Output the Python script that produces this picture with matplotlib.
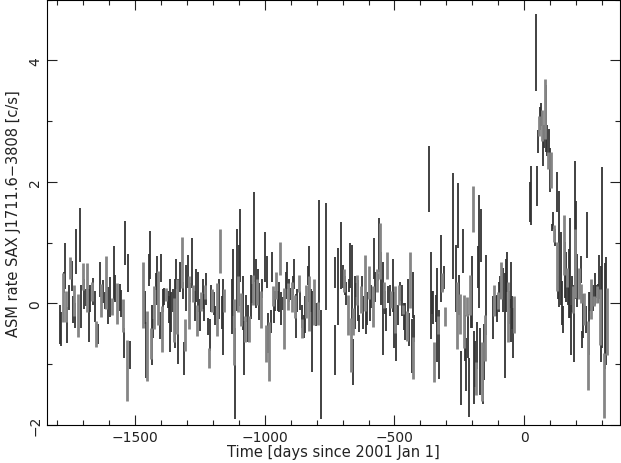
import numpy as np
import matplotlib
matplotlib.use('Agg')
import matplotlib.pyplot as plt
from matplotlib.ticker import MultipleLocator

# RXTE/ASM light curve of SAX J1711.6-3808
# time [days since 2001 Jan 1], rate [c/s], error [c/s]

t_a = [-1791, -1785, -1778, -1773, -1771, -1766, -1762, -1757, -1750, -1745,
       -1740, -1735, -1731, -1727, -1719, -1714, -1708, -1701, -1696, -1691,
       -1686, -1678, -1673, -1668, -1663, -1656, -1650, -1645, -1637, -1631,
       -1624, -1618, -1611, -1605, -1596, -1589, -1582, -1576, -1569, -1560,
       -1553, -1548, -1544, -1539, -1531, -1526, -1520]
r_a = [-0.35, -0.42, 0.10, 0.35, 0.62, -0.05, -0.35, 0.10, 0.58, 0.45,
       -0.10, 0.05, -0.20, 0.85, -0.20, 1.13, -0.05, 0.45, 0.16, 0.10,
       0.26, -0.20, 0.08, 0.20, 0.20, -0.05, -0.50, -0.50, 0.40, 0.05,
       0.20, 0.05, 0.35, -0.03, 0.10, -0.05, 0.50, 0.25, 0.00, 0.10,
       0.00, -0.20, -0.65, 1.00, -1.10, 0.50, -0.85]
e_a = [0.32, 0.28, 0.40, 0.17, 0.38, 0.25, 0.30, 0.20, 0.18, 0.25,
       0.22, 0.25, 0.20, 0.37, 0.35, 0.45, 0.35, 0.22, 0.25, 0.14,
       0.40, 0.44, 0.22, 0.16, 0.22, 0.25, 0.22, 0.17, 0.29, 0.27,
       0.19, 0.14, 0.44, 0.30, 0.33, 0.14, 0.44, 0.22, 0.33, 0.22,
       0.22, 0.27, 0.25, 0.36, 0.50, 0.31, 0.23]

t_b = [-1468, -1463, -1459, -1454, -1448, -1444, -1440, -1436, -1431, -1426,
       -1421, -1417, -1410, -1405, -1401, -1397, -1392, -1387, -1381, -1375,
       -1370, -1365, -1360, -1355, -1351, -1346, -1341, -1337, -1333, -1327,
       -1321, -1316, -1311, -1306, -1302, -1297, -1292, -1287, -1282, -1276,
       -1271, -1266, -1261, -1256, -1251, -1245, -1240, -1235, -1230, -1225,
       -1220, -1216, -1212, -1207, -1202, -1197, -1191, -1186, -1181, -1176,
       -1171, -1166, -1162, -1158]
r_b = [0.14, -0.07, -0.76, -0.70, 0.55, 0.80, -0.66, -0.52, -0.41, -0.07,
       0.36, 0.38, 0.09, -0.36, 0.59, -0.42, 0.05, 0.12, 0.15, 0.07,
       -0.10, -0.20, -0.14, 0.05, -0.27, -0.16, 0.49, -0.05, -0.30, 0.44,
       0.67, 0.22, -0.90, -0.52, 0.25, 0.53, 0.02, 0.18, 0.66, 0.17,
       -0.04, 0.30, -0.28, 0.19, -0.19, 0.03, 0.16, -0.07, 0.19, 0.24,
       -0.38, -0.90, -0.52, 0.08, 0.05, 0.00, -0.20, -0.10, 0.05, 0.08,
       0.87, -0.15, -0.22, 0.05]
e_b = [0.55, 0.27, 0.46, 0.58, 0.26, 0.40, 0.25, 0.50, 0.16, 0.35,
       0.14, 0.41, 0.44, 0.22, 0.23, 0.38, 0.19, 0.14, 0.11, 0.14,
       0.22, 0.60, 0.33, 0.19, 0.36, 0.57, 0.25, 0.46, 0.70, 0.25,
       0.42, 0.14, 0.27, 0.27, 0.38, 0.27, 0.44, 0.16, 0.41, 0.14,
       0.25, 0.27, 0.25, 0.33, 0.27, 0.16, 0.25, 0.22, 0.11, 0.27,
       0.14, 0.16, 0.27, 0.22, 0.19, 0.19, 0.16, 0.44, 0.14, 0.33,
       0.36, 0.27, 0.63, 0.19]

t_c = [-1125, -1122, -1120, -1116, -1108, -1103, -1099, -1095, -1090, -1085,
       -1080, -1076, -1071, -1066, -1061, -1054, -1049, -1045, -1040, -1035,
       -1030, -1026, -1021, -1015, -1012, -1000, -996, -992, -987, -982,
       -978, -973, -969, -964, -959, -955, -950, -945, -940, -936,
       -931, -925, -920, -915, -911, -906, -901, -897, -892, -887,
       -883, -878, -874, -869, -864, -858, -855, -849, -844, -840,
       -835, -831, -828, -822, -817, -812, -808, -801, -795, -792,
       -783, -763]
r_c = [-0.05, 0.35, -0.47, -1.15, 0.55, 0.16, 0.46, 0.96, -0.10, 0.01,
       -0.73, -0.42, -0.08, -0.33, -0.42, 0.11, 0.16, 0.22, 1.09, 0.33,
       0.19, 0.27, 0.03, -0.10, 0.25, 0.77, -0.66, 0.52, -0.48, -0.79,
       -0.30, 0.60, 0.12, -0.10, 0.04, 0.30, 0.04, 0.11, 0.74, -0.08,
       0.00, -0.25, 0.30, 0.46, 0.11, 0.22, 0.16, 0.11, 0.30, 0.49,
       -0.05, -0.20, 0.05, 0.33, 0.05, -0.22, -0.41, -0.38, -0.18, 0.03,
       0.46, 0.49, 0.00, 0.05, -0.46, 0.03, -0.10, -0.18, -0.16, 0.80,
       -1.00, 0.78]
e_c = [0.46, 0.55, 0.55, 0.75, 0.68, 0.30, 0.50, 0.60, 0.27, 0.44,
       0.44, 0.22, 0.22, 0.30, 0.22, 0.36, 0.16, 0.25, 0.74, 0.41,
       0.22, 0.30, 0.30, 0.30, 0.16, 0.41, 0.30, 0.27, 0.33, 0.49,
       0.19, 0.25, 0.16, 0.22, 0.16, 0.22, 0.16, 0.25, 0.27, 0.27,
       0.10, 0.50, 0.22, 0.22, 0.22, 0.19, 0.10, 0.25, 0.16, 0.25,
       0.19, 0.36, 0.19, 0.14, 0.16, 0.19, 0.16, 0.19, 0.30, 0.27,
       0.16, 0.46, 0.46, 0.19, 0.66, 0.38, 0.11, 0.19, 0.19, 0.90,
       0.90, 0.88]

t_d = [-730, -728, -717, -705, -700, -695, -690, -685, -681, -676,
       -671, -669, -665, -661, -658, -654, -649, -643, -640, -635,
       -629, -624, -620, -615, -610, -605, -600, -595, -589, -584,
       -579, -574, -569, -565, -560, -556, -551, -546, -541, -537,
       -532, -528, -523, -517, -512, -507, -502, -497, -493, -488,
       -483, -477, -472, -468, -462, -458, -453, -448, -443, -439,
       -434, -429, -427, -423]
r_d = [0.51, -0.77, 0.28, 0.79, 0.44, 0.38, 0.30, 0.16, -0.19, 0.30,
       0.62, -0.68, 0.30, -0.96, -0.30, 0.02, 0.22, 0.22, 0.05, -0.33,
       0.07, 0.19, -0.15, 0.34, -0.24, -0.08, 0.35, -0.10, 0.11, -0.05,
       0.74, 0.27, 0.38, 0.43, 0.96, 0.87, 0.41, -0.08, 0.14, 0.01,
       -0.27, 0.63, 0.15, 0.05, 0.07, 0.30, -0.27, -0.10, -0.49, -0.19,
       0.14, 0.20, 0.05, -0.10, -0.21, -0.30, -0.37, 0.05, -0.43, 0.38,
       -0.70, 0.14, -0.90, -0.41]
e_d = [0.26, 0.41, 0.63, 0.55, 0.19, 0.19, 0.16, 0.19, 0.33, 0.11,
       0.37, 0.44, 0.66, 0.38, 0.22, 0.44, 0.11, 0.25, 0.33, 0.14,
       0.22, 0.27, 0.27, 0.46, 0.27, 0.27, 0.27, 0.19, 0.19, 0.33,
       0.33, 0.25, 0.19, 0.06, 0.44, 0.46, 0.44, 0.77, 0.22, 0.19,
       0.19, 0.22, 0.14, 0.25, 0.14, 0.44, 0.46, 0.38, 0.46, 0.16,
       0.16, 0.16, 0.25, 0.08, 0.22, 0.30, 0.25, 0.36, 0.27, 0.46,
       0.45, 0.38, 0.35, 0.22]

t_e = [-365, -359, -355, -350, -346, -341, -337, -333, -328, -320,
       -317, -313, -309, -304, -273, -261, -257, -254, -250, -246,
       -242, -237, -233, -229, -225, -221, -217, -214, -210, -206,
       -202, -198, -194, -190, -187, -183, -179, -175, -171, -167,
       -163, -160, -156, -151, -147, -118, -115, -109, -106, -100,
       -97, -91, -88, -84, -80, -75, -71, -67, -63, -59,
       -55, -52, -46, -41, -37]
r_e = [2.05, 0.13, 0.01, -0.07, -0.96, -0.08, -0.19, -0.35, -0.67, 0.57,
       0.35, 0.30, 0.43, -0.21, 1.28, 0.41, -0.20, 1.45, 0.14, -0.17,
       -1.23, 0.87, -0.30, -0.57, -1.00, -0.05, -0.54, -1.38, 0.14, -0.10,
       0.19, 1.55, -1.05, -1.00, -1.23, -0.69, 0.60, 0.85, -0.96, 1.12,
       -1.12, -1.20, -0.80, -0.57, 0.14, -0.23, 0.05, -0.04, -0.08, 0.05,
       0.11, 0.27, 0.38, 0.36, 0.22, -0.36, 0.30, 0.52, -0.14, -0.07,
       0.00, 0.02, -0.15, -0.49, -0.18]
e_e = [0.55, 0.71, 0.19, 0.27, 0.33, 0.22, 0.77, 0.15, 0.57, 0.55,
       0.16, 0.10, 0.19, 0.16, 0.87, 0.55, 0.55, 0.53, 0.33, 0.33,
       0.44, 0.36, 0.44, 0.38, 0.44, 0.16, 0.36, 0.49, 0.33, 0.30,
       0.60, 0.38, 0.60, 0.38, 0.27, 0.38, 0.35, 0.93, 0.55, 0.44,
       0.49, 0.46, 0.46, 0.38, 0.66, 0.36, 0.25, 0.16, 0.22, 0.14,
       0.25, 0.19, 0.30, 0.16, 0.36, 0.87, 0.44, 0.33, 0.49, 0.27,
       0.08, 0.66, 0.27, 0.41, 0.30]

t_f = [24, 28, 45, 48, 53, 57, 60, 64, 68, 72,
       76, 80, 84, 87, 91, 95, 99, 103, 107, 111,
       115, 118, 126, 128, 130, 135, 142, 145, 149, 153,
       157, 161, 165, 169, 172, 176, 180, 184, 188, 192,
       195, 198, 202, 206, 210, 214, 218, 221, 225, 229,
       233, 237, 242, 246, 250, 254, 257, 261, 265, 269,
       273, 277, 281, 284, 288, 292, 296, 302, 308, 313,
       317, 320]
r_f = [1.67, 1.78, 4.13, 1.94, 2.66, 2.92, 3.05, 3.11, 2.93, 2.60,
       2.75, 3.20, 3.05, 2.68, 2.35, 2.60, 2.20, 2.20, 1.25, 1.37,
       1.15, 1.08, 1.83, 0.61, 0.26, 0.90, 0.57, 0.01, -0.26, 0.96,
       0.55, 0.43, 0.43, 0.22, 0.33, 0.58, -0.44, 0.16, 0.07, -0.33,
       1.21, 0.66, 0.88, 0.38, 0.33, 0.30, 0.56, 0.16, -0.60, -0.20,
       -0.09, -0.26, 1.13, -0.86, -0.33, 0.03, 0.08, 0.17, 0.09, 0.04,
       0.24, 0.20, 0.14, 0.16, 0.44, -0.22, -0.17, 0.75, -1.35, -0.20,
       -0.12, -0.30]
e_f = [0.33, 0.49, 0.63, 0.33, 0.19, 0.16, 0.19, 0.19, 0.25, 0.33,
       0.19, 0.49, 0.55, 0.25, 0.14, 0.27, 0.36, 0.30, 0.06, 0.14,
       0.14, 0.14, 0.33, 0.40, 0.19, 0.95, 0.60, 0.36, 0.22, 0.49,
       0.46, 0.41, 0.16, 0.25, 0.57, 0.82, 0.41, 0.30, 0.22, 0.63,
       1.13, 0.57, 0.80, 0.44, 0.25, 0.16, 0.22, 0.16, 0.14, 0.36,
       0.27, 0.22, 0.38, 0.57, 0.52, 0.16, 0.33, 0.11, 0.22, 0.08,
       0.27, 0.11, 0.14, 0.16, 0.36, 0.46, 0.79, 1.49, 0.53, 0.87,
       0.89, 0.55]

t = np.array(t_a + t_b + t_c + t_d + t_e + t_f)
rate = np.array(r_a + r_b + r_c + r_d + r_e + r_f)
err = np.array(e_a + e_b + e_c + e_d + e_e + e_f)

fig = plt.figure(figsize=(6.21, 4.64), dpi=100)
ax = fig.add_axes([0.0757, 0.0819, 0.9227, 0.9165])

# mix of dark thin and light grey bars like the original rendering;
# the long isolated bars are dark and thin
grey = (np.arange(len(t)) % 3 == 2) & (err < 0.6)
dark = ~grey
ax.vlines(t[dark], rate[dark] - err[dark], rate[dark] + err[dark],
          color='#333333', linewidth=1.3)
ax.vlines(t[grey], rate[grey] - err[grey], rate[grey] + err[grey],
          color='#858585', linewidth=2.0)

ax.set_xlim(-1840, 370)
ax.set_ylim(-2, 5)
ax.xaxis.set_major_locator(MultipleLocator(500))
ax.xaxis.set_minor_locator(MultipleLocator(100))
ax.yaxis.set_major_locator(MultipleLocator(2))
ax.yaxis.set_minor_locator(MultipleLocator(1))
ax.tick_params(which='both', direction='in', top=True, right=True,
               labelsize=10, colors='#222222')
ax.tick_params(which='major', length=7, width=0.8)
ax.tick_params(which='minor', length=3.5, width=0.8)
for lab in ax.get_yticklabels():
    lab.set_rotation(90)
    lab.set_va('center')

ax.set_xlabel('Time [days since 2001 Jan 1]', fontsize=10.5, labelpad=0,
              color='#222222')
ax.set_ylabel('ASM rate SAX J1711.6\u22123808 [c/s]', fontsize=10.5, labelpad=5,
              color='#222222')

plt.savefig('out.png', dpi=100)
